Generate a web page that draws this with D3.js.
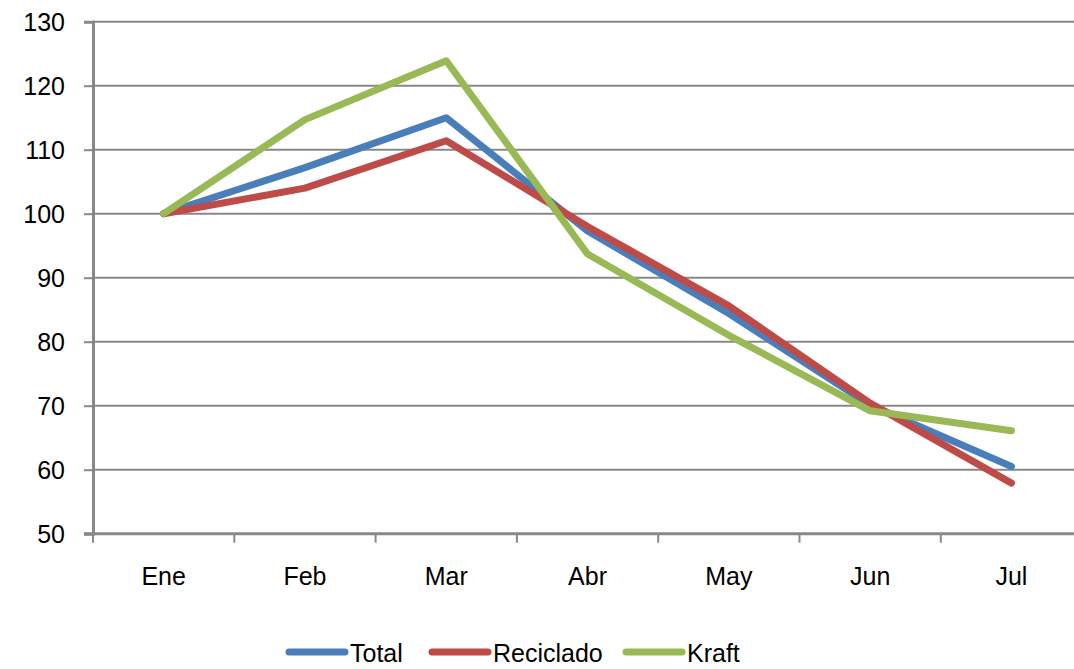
<!DOCTYPE html>
<html lang="es">
<head>
<meta charset="UTF-8">
<title>Indices</title>
<script src="https://d3js.org/d3.v7.min.js"></script>
<style>
    html, body { margin: 0; padding: 0; background: #fff; overflow: hidden; }
    svg text { font-family: "Liberation Sans", Arial, sans-serif; fill: #000; }
</style>
</head>
<body>
<svg id="chart" width="1074" height="669"></svg>
<script>
    // data
    const months = ["Ene", "Feb", "Mar", "Abr", "May", "Jun", "Jul"];
    const total = [100, 107.2, 115, 97.3, 84.4, 70.1, 60.5];
    const reciclado = [100, 104.0, 111.4, 98.0, 85.6, 70.4, 57.9];
    const kraft = [100, 114.7, 123.9, 93.7, 81.0, 69.2, 66.1];
    const yTicks = [50, 60, 70, 80, 90, 100, 110, 120, 130];

    const seriesNames = ["Total", "Reciclado", "Kraft"];
    const seriesColors = ["#4a7ebb", "#be4b48", "#98b954"];
    const series = [total, reciclado, kraft];

    const svg = d3.select("#chart");
    const plotLeft = 93, plotTop = 21.7, plotBottom = 533.7, band = 141.3;
    const fontSize = "25px";

    const x = d3.scaleBand().domain(months).range([plotLeft, plotLeft + band * months.length]).padding(0);
    const y = d3.scaleLinear().domain([50, 130]).range([plotBottom, plotTop]);

    // gridlines
    svg.append("g").selectAll("line")
        .data(yTicks.slice(1))
        .enter().append("line")
        .attr("x1", plotLeft).attr("x2", 1074)
        .attr("y1", d => y(d)).attr("y2", d => y(d))
        .attr("stroke", "#888").attr("stroke-width", 2);

    // y axis
    const yAxis = svg.append("g")
        .attr("transform", `translate(${plotLeft},0)`)
        .call(d3.axisLeft(y).tickValues(yTicks).tickSize(9).tickPadding(19));
    yAxis.select(".domain").attr("stroke", "#888").attr("stroke-width", 3);
    yAxis.selectAll(".tick line").attr("stroke", "#888").attr("stroke-width", 2);
    yAxis.selectAll("text").style("font-size", fontSize).attr("dy", "0.36em");

    // x axis with ticks on category boundaries
    const xb = d3.scaleLinear().domain([0, months.length]).range([plotLeft, plotLeft + band * months.length]);
    const xAxis = svg.append("g").attr("transform", `translate(0,${plotBottom})`);
    xAxis.append("line")
        .attr("x1", plotLeft - 9).attr("x2", 1074)
        .attr("stroke", "#888").attr("stroke-width", 3);
    xAxis.selectAll(".tk")
        .data(d3.range(0, months.length + 1))
        .enter().append("line")
        .attr("x1", d => xb(d)).attr("x2", d => xb(d))
        .attr("y1", 0).attr("y2", 9)
        .attr("stroke", "#888").attr("stroke-width", 2);
    xAxis.selectAll(".lbl")
        .data(months)
        .enter().append("text")
        .attr("x", d => x(d) + x.bandwidth() / 2)
        .attr("y", 51)
        .attr("text-anchor", "middle")
        .style("font-size", fontSize)
        .text(d => d);

    // lines
    const line = d3.line()
        .x((d, i) => x(months[i]) + x.bandwidth() / 2)
        .y(d => y(d));

    series.forEach((s, i) => {
        svg.append("path")
            .datum(s)
            .attr("fill", "none")
            .attr("stroke", seriesColors[i])
            .attr("stroke-width", 7)
            .attr("stroke-linejoin", "round")
            .attr("stroke-linecap", "round")
            .attr("d", line);
    });

    // legend
    const legendX = [289, 432, 626];
    const legend = svg.append("g");
    seriesNames.forEach((name, i) => {
        const g = legend.append("g").attr("transform", `translate(${legendX[i]},652)`);
        g.append("line")
            .attr("x1", 0).attr("x2", 56)
            .attr("stroke", seriesColors[i]).attr("stroke-width", 7)
            .attr("stroke-linecap", "round");
        g.append("text")
            .attr("x", 61).attr("y", 10)
            .style("font-size", fontSize)
            .text(name);
    });
</script>
</body>
</html>
